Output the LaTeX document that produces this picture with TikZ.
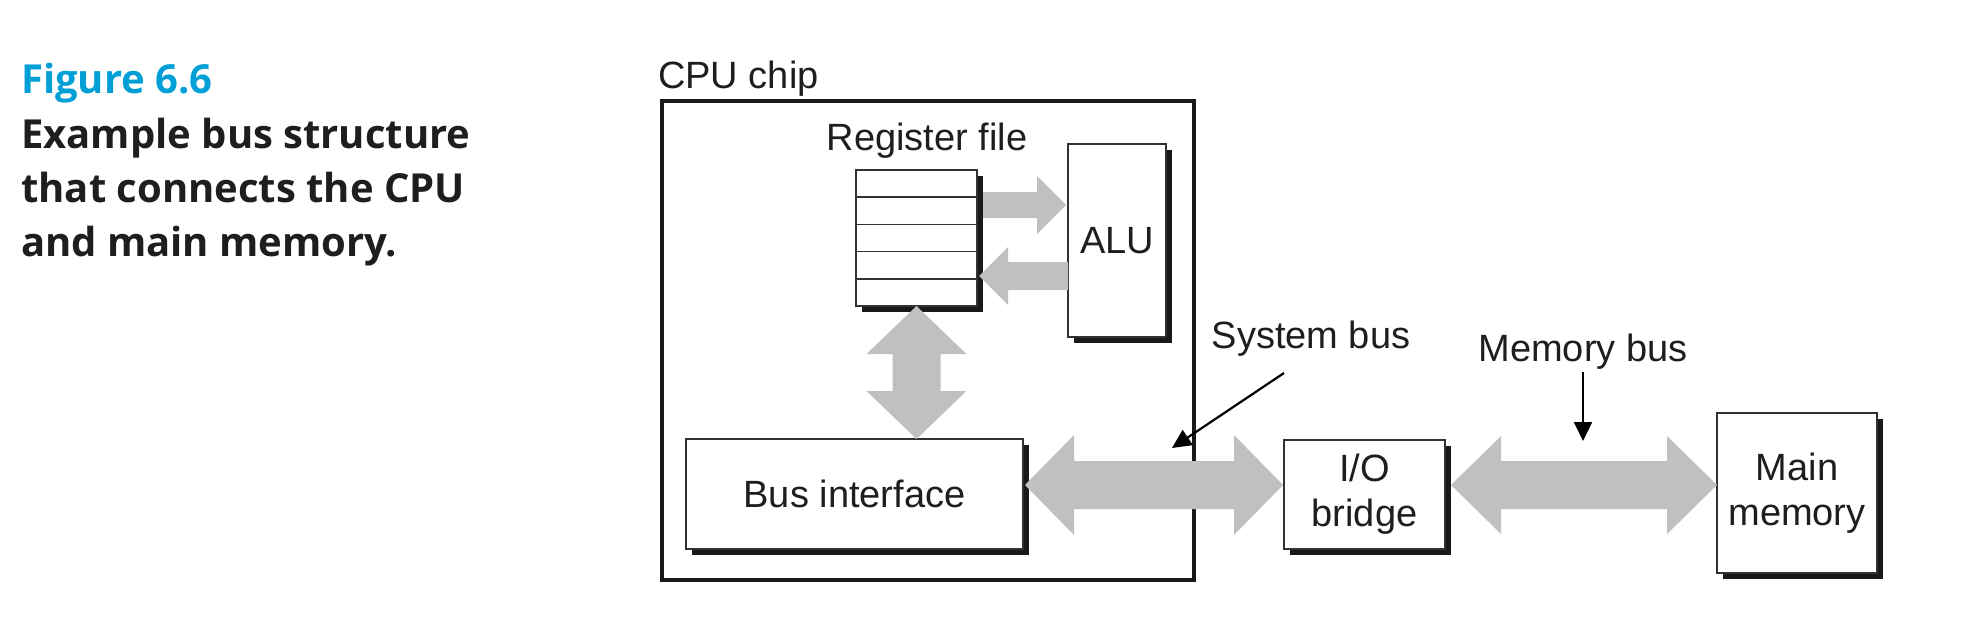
\documentclass[tikz,border=0pt]{standalone}
\usepackage{fontspec}
\setmainfont{Liberation Sans}
\newfontfamily\capfont{Open Sans}
\usetikzlibrary{arrows.meta,calc,shadows}
\definecolor{busgray}{RGB}{192,192,192}
\definecolor{figcyan}{RGB}{0,160,215}
\definecolor{boxline}{RGB}{50,50,50}
\definecolor{inkc}{RGB}{30,30,30}
% double fat arrow between two tips
\newcommand\fatdbl[5]{%
  \coordinate (fh1) at ($(#1)!#5!(#2)$);
  \coordinate (fh2) at ($(#2)!#5!(#1)$);
  \fill[busgray] (#1) -- ($(fh1)!#4!90:(#2)$) -- ($(fh1)!#3!90:(#2)$)
    -- ($(fh2)!#3!-90:(#1)$) -- ($(fh2)!#4!-90:(#1)$) -- (#2)
    -- ($(fh2)!#4!90:(#1)$) -- ($(fh2)!#3!90:(#1)$)
    -- ($(fh1)!#3!-90:(#2)$) -- ($(fh1)!#4!-90:(#2)$) -- cycle;}
% single fat arrow from tail #1 to tip #2
\newcommand\fatone[5]{%
  \coordinate (fh) at ($(#2)!#5!(#1)$);
  \fill[busgray] (#1) -- ($(#1)!#3!90:(#2)$) -- ($(fh)!#3!-90:(#1)$)
    -- ($(fh)!#4!-90:(#1)$) -- (#2) -- ($(fh)!#4!90:(#1)$)
    -- ($(fh)!#3!90:(#1)$) -- ($(#1)!#3!-90:(#2)$) -- cycle;}
\begin{document}
\begin{tikzpicture}[x=1pt,y=-1pt,
  lbl/.style={inner sep=0pt,text=inkc,font=\fontsize{38}{45}\selectfont},
  unit/.style={draw=boxline,line width=1.5pt,fill=white,inner sep=0pt,outer sep=0pt,
    align=center,text=inkc,font=\fontsize{38}{45}\selectfont,
    drop shadow={shadow xshift=6pt,shadow yshift=-6pt,opacity=1,fill=black!90}},
  chip/.style={draw=black!90,line width=4.5pt,inner sep=0pt,outer sep=0pt},
  pointer/.style={draw=black,line width=2.2pt,-{Triangle[length=19pt,width=18pt]}},
  captxt/.style={inner sep=0pt,anchor=base west,text=inkc,font=\capfont\bfseries\fontsize{40}{54}\selectfont}
]
\useasboundingbox (0,0) rectangle (1970,624);

% caption
\node[captxt,text=figcyan] (cap1) at (21,93) {Figure 6.6};
\node[captxt] (cap2) at (21,148) {Example bus structure};
\node[captxt] (cap3) at (21,202) {that connects the CPU};
\node[captxt] (cap4) at (21,256) {and main memory.};

% CPU chip
\node[chip,minimum width=532pt,minimum height=479pt] (cpu) at (928,340.5) {};
\node[lbl,anchor=base west] (cpulbl) at (658,88) {CPU chip};

% units
\node[unit,minimum width=121pt,minimum height=136pt] (rf) at (916.5,238) {};
\foreach \k in {1,...,4}
  \draw[boxline,line width=1.5pt] ($(rf.north west)!\k/5!(rf.south west)$) -- ($(rf.north east)!\k/5!(rf.south east)$);
\node[lbl,anchor=base] (rflbl) at (927,150) {Register file};
\node[unit,minimum width=98pt,minimum height=193pt] (alu) at (1117,240.5) {ALU};
\node[unit,minimum width=337pt,minimum height=110pt] (bi) at (854.5,494) {Bus interface};
\node[unit,minimum width=161pt,minimum height=109pt] (io) at (1364.5,494.5) {I/O\\bridge};
\node[unit,minimum width=160pt,minimum height=160pt] (mm) at (1797,493) {Main\\memory};

% register file <-> ALU
\coordinate (r2a) at ($(rf.east |- 0,205)+(6,0)$);
\coordinate (r2b) at ($(alu.west |- 0,205)+(-2,0)$);
\fatone{r2a}{r2b}{13pt}{29pt}{29pt}
\coordinate (a2r) at (alu.west |- 0,276);
\coordinate (a2s) at ($(rf.east |- 0,276)+(2,0)$);
\fatone{a2r}{a2s}{14pt}{29pt}{29pt}

% register file <-> bus interface
\coordinate (vb) at (rf.south |- bi.north);
\fatdbl{rf.south}{vb}{24pt}{50pt}{48pt}

% system bus
\coordinate (sbl) at ($(bi.east |- 0,485)+(2,0)$);
\coordinate (sbr) at ($(io.west |- 0,485)+(-1,0)$);
\fatdbl{sbl}{sbr}{24pt}{50pt}{49pt}

% memory bus
\coordinate (mbl) at ($(io.east |- 0,485)+(6,0)$);
\coordinate (mbr) at (mm.west |- 0,485);
\fatdbl{mbl}{mbr}{24pt}{49pt}{50pt}

% labels and pointers
\node[lbl,anchor=base] (sblbl) at (1311,348) {System bus};
\node[lbl,anchor=base] (mblbl) at (1583,361) {Memory bus};
\coordinate (sbtail) at (1284,373);
\coordinate (sbtip) at (1172,448);
\draw[pointer] (sbtail) -- (sbtip);
\coordinate (mbtail) at (mblbl.south |- 0,372);
\coordinate (mbtip) at (mblbl.south |- 0,441);
\draw[pointer] (mbtail) -- (mbtip);
\end{tikzpicture}
\end{document}
